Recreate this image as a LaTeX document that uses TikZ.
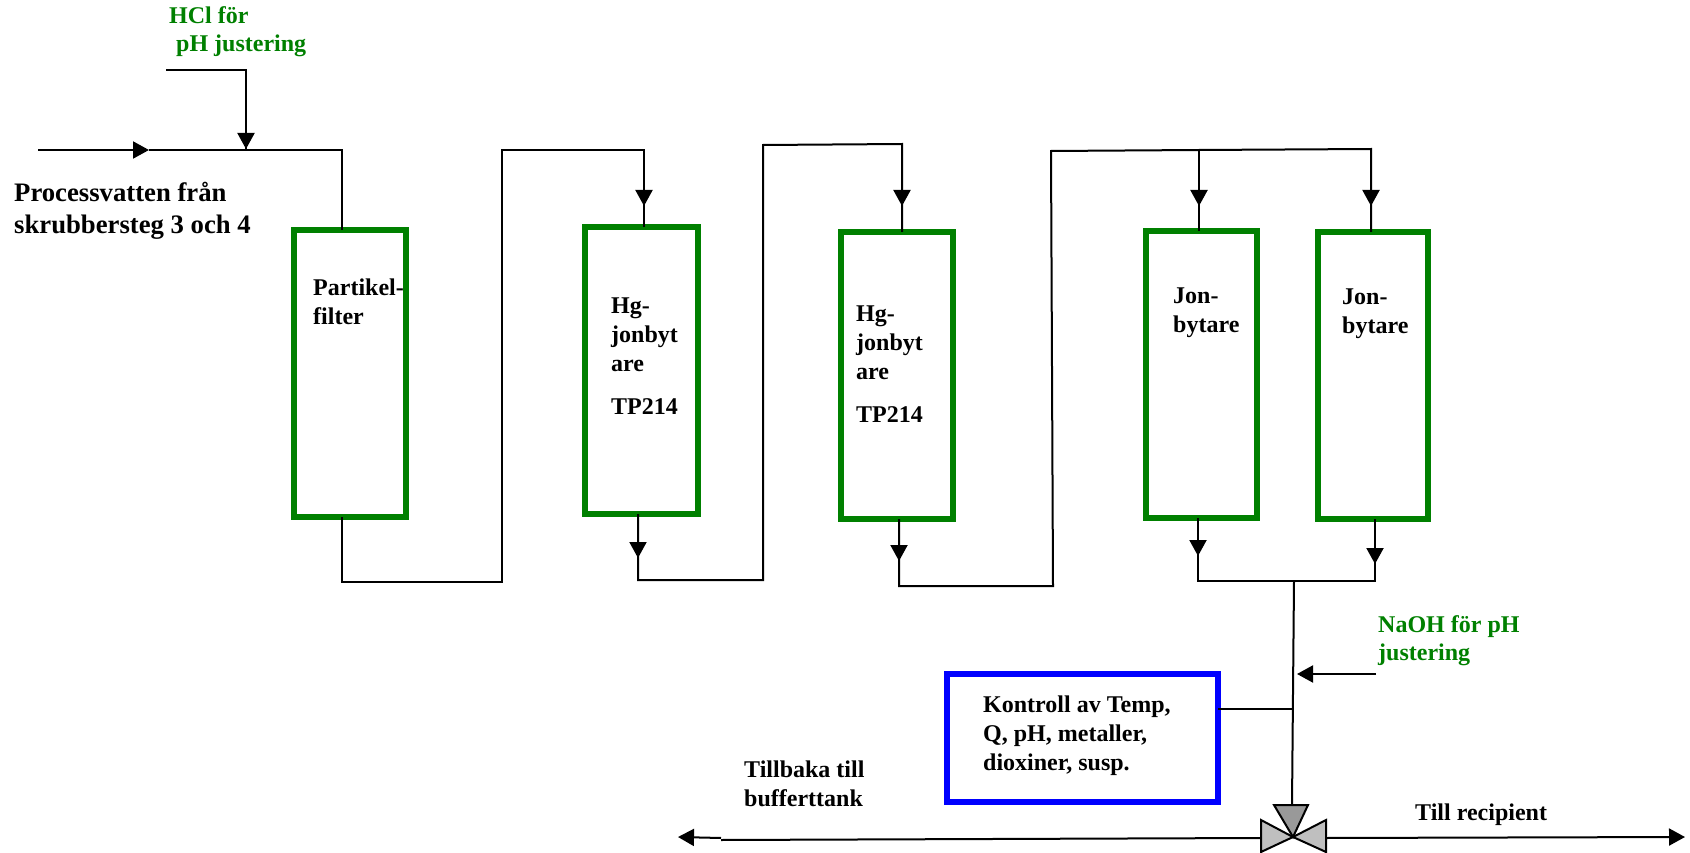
\documentclass[tikz,border=0pt]{standalone}
\usepackage{fontspec}
\setmainfont{Liberation Serif}
\usetikzlibrary{arrows.meta}
\definecolor{tankgreen}{RGB}{0,128,0}
\tikzset{
  tank/.style={draw=tankgreen, line width=6pt, inner sep=0pt, outer sep=0pt, minimum width=#1, minimum height=287pt, anchor=north west},
  ctrl/.style={draw=blue, line width=6pt, inner sep=0pt, outer sep=0pt, minimum width=271pt, minimum height=128pt, anchor=north west},
  lbl/.style={anchor=north west, inner sep=0pt, align=left, font=\fontsize{24}{29}\selectfont\bfseries},
  dose/.style={lbl, text=tankgreen, font=\fontsize{24}{28}\selectfont\bfseries},
  pipe/.style={draw=black, line width=2pt},
  flow/.style={pipe, -{Triangle[length=16pt, width=17pt]}},
  valve/.style={draw=black, line width=2pt, line join=miter},
}
\begin{document}
\begin{tikzpicture}[x=1pt, y=-1pt]
  \useasboundingbox (0,0) rectangle (1690,853);
  % tanks
  \node[tank=112pt] (filter) at (294,230) {};
  \node[tank=113pt] (hgA) at (585,227) {};
  \node[tank=112pt] (hgB) at (841,232) {};
  \node[tank=111pt] (jonA) at (1146,231) {};
  \node[tank=110pt] (jonB) at (1318,232) {};
  \node[ctrl] (check) at (947,674) {};
  % texts
  \node[dose] (hcl) at (169,6) {HCl för\\\hspace*{7pt}pH justering};
  \node[lbl, font=\fontsize{26.7}{32}\selectfont\bfseries] (inlet) at (14,182) {Processvatten från\\skrubbersteg 3 och 4};
  \node[lbl] (filtertxt) at (313,279) {Partikel-\\filter};
  \node[lbl] (hgAtxt) at (611,298) {Hg-\\jonbyt\\are\\[14pt]TP214};
  \node[lbl] (hgBtxt) at (856,306) {Hg-\\jonbyt\\are\\[14pt]TP214};
  \node[lbl] (jonAtxt) at (1173,288) {Jon-\\bytare};
  \node[lbl] (jonBtxt) at (1342,289) {Jon-\\bytare};
  \node[dose] (naoh) at (1378,615) {NaOH för pH\\justering};
  \node[lbl] (checktxt) at (983,696) {Kontroll av Temp,\\Q, pH, metaller,\\dioxiner, susp.};
  \node[lbl] (backtxt) at (744,761) {Tillbaka till\\bufferttank};
  \node[lbl] (outtxt) at (1415,804) {Till recipient};
  % bends
  \coordinate (inA) at (38,150);
  \coordinate (inB) at (149,150);
  \coordinate (hclA) at (166,70);
  \coordinate (hclB) at (246,70);
  \coordinate (hclC) at (246,149);
  \coordinate (topA) at (342,150);
  \coordinate (lowA) at (342,582);
  \coordinate (lowB) at (502,582);
  \coordinate (upA) at (502,150);
  \coordinate (upB) at (644,150);
  \coordinate (tipA) at (644,206);
  \coordinate (lowC) at (638,580);
  \coordinate (tipB) at (638,558);
  \coordinate (lowD) at (763,580);
  \coordinate (upC) at (763,145);
  \coordinate (upD) at (902,144);
  \coordinate (tipC) at (902,206);
  \coordinate (lowE) at (899,586);
  \coordinate (tipD) at (899,561);
  \coordinate (lowF) at (1053,586);
  \coordinate (upE) at (1051,151);
  \coordinate (upF) at (1199,150);
  \coordinate (upG) at (1371,149);
  \coordinate (tipE) at (1199,206);
  \coordinate (tipF) at (1371,206);
  \coordinate (lowG) at (1198,581);
  \coordinate (tipG) at (1198,556);
  \coordinate (lowH) at (1375,581);
  \coordinate (tipH) at (1375,564);
  \coordinate (mixA) at (1294,581);
  \coordinate (mixB) at (1292,805);
  \coordinate (mixC) at (1293,709);
  \coordinate (naohA) at (1376,674);
  \coordinate (naohB) at (1297,674);
  \coordinate (vc) at (1293,837);
  \coordinate (backA) at (1261,838);
  \coordinate (backC) at (721,840);
  \coordinate (backD) at (721,838);
  \coordinate (backB) at (678,837);
  \coordinate (outA) at (1326,838);
  \coordinate (outB) at (1685,837);
  % inlet and first tank
  \draw[flow] (inA) -- (inB);
  \draw[pipe] (inB) -- (topA) -- (topA |- filter.north);
  \draw[pipe] (hclA) -- (hclB) -- (hclC);
  \draw[flow] (hclB) -- (hclC);
  % tank to tank
  \draw[pipe] (lowA |- filter.south) -- (lowA) -- (lowB) -- (upA) -- (upB) -- (upB |- hgA.north);
  \draw[flow] (upB) -- (tipA);
  \draw[pipe] (lowC |- hgA.south) -- (lowC) -- (lowD) -- (upC) -- (upD) -- (upD |- hgB.north);
  \draw[flow] (lowC |- hgA.south) -- (tipB);
  \draw[flow] (upD) -- (tipC);
  \draw[pipe] (lowE |- hgB.south) -- (lowE) -- (lowF) -- (upE) -- (upF) -- (upG) -- (upG |- jonB.north);
  \draw[flow] (lowE |- hgB.south) -- (tipD);
  \draw[pipe] (upF) -- (upF |- jonA.north);
  \draw[flow] (upF) -- (tipE);
  \draw[flow] (upG) -- (tipF);
  % outlet
  \draw[pipe] (lowG |- jonA.south) -- (lowG) -- (lowH) -- (lowH |- jonB.south);
  \draw[flow] (lowG |- jonA.south) -- (tipG);
  \draw[flow] (lowH |- jonB.south) -- (tipH);
  \draw[pipe] (mixA) -- (mixB);
  \draw[flow] (naohA) -- (naohB);
  \draw[pipe] (check.east |- mixC) -- (mixC);
  \draw[pipe] (backA) -- (backC);
  \draw[flow] (backD) -- (backB);
  \draw[flow] (outA) -- (outB);
  % valve
  \draw[valve, fill=black!40] (vc) -- (1274,805) -- (1308,805) -- cycle;
  \draw[valve, fill=black!25] (vc) -- (1261,820) -- (1261,852) -- cycle;
  \draw[valve, fill=black!25] (vc) -- (1326,820) -- (1326,852) -- cycle;
\end{tikzpicture}
\end{document}
